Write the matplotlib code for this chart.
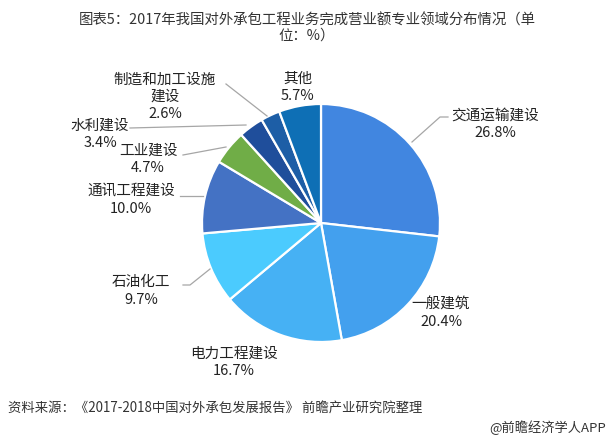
import matplotlib
matplotlib.use("Agg")
import matplotlib.pyplot as plt

plt.rcParams['font.family'] = ['Noto Sans CJK SC', 'DejaVu Sans']

categories = ['交通运输建设', '一般建筑', '电力工程建设', '石油化工', '通讯工程建设',
              '工业建设', '水利建设', '制造和加工设施\n建设', '其他']
values = [26.8, 20.4, 16.7, 9.7, 10.0, 4.7, 3.4, 2.6, 5.7]
colors = ['#4186E0', '#43A0EE', '#46B1F4', '#4BCBFE', '#4472C4',
          '#70AD47', '#1F4E9B', '#1D5EA6', '#0E6FB5']

# label anchor positions (pixel coords, top-left origin)
label_pos = [(495, 124), (441, 313), (234, 362), (141, 291), (131, 200),
             (148, 159), (100, 134), (165, 97), (298, 87)]
# leader lines (pixel coords)
leaders = {
    0: [(412, 143), (440, 118), (448, 118)],
    3: [(210, 270), (190, 286), (183, 286)],
    4: [(203, 197), (180, 197)],
    5: [(226, 148), (183, 156)],
    6: [(246, 126), (130, 129)],
    7: [(267, 117), (226, 85)],
}

W, H = 611, 439
fig = plt.figure(figsize=(W / 100, H / 100), dpi=100)
ax = fig.add_axes([0, 0, 1, 1])
ax.set_xlim(0, W)
ax.set_ylim(0, H)
ax.set_aspect('equal')
ax.axis('off')

cx, cy, r = 321, 224, 119
ax.pie(values, colors=colors, startangle=90, counterclock=False,
       center=(cx, H - cy), radius=r,
       wedgeprops=dict(edgecolor='white', linewidth=1.6))
ax.set_xlim(0, W)
ax.set_ylim(0, H)

for i, (name, v) in enumerate(zip(categories, values)):
    x, y = label_pos[i]
    ax.text(x, H - y, f'{name}\n{v:.1f}%', ha='center', va='center',
            fontsize=10.5, color='#222222', linespacing=1.3)

for i, pts in leaders.items():
    xs = [p[0] for p in pts]
    ys = [H - p[1] for p in pts]
    ax.plot(xs, ys, color='#A6A6A6', linewidth=0.9)

fig.text(307 / W, 1 - 28 / H,
         '图表5：2017年我国对外承包工程业务完成营业额专业领域分布情况（单\n位：%）',
         ha='center', va='center', fontsize=10.4, color='#333333', linespacing=1.15)

fig.text(8 / W, 1 - 409 / H,
         '资料来源：《2017-2018中国对外承包发展报告》 前瞻产业研究院整理',
         ha='left', va='center', fontsize=9.6, color='#333333', style='italic')
fig.text(606 / W, 1 - 428 / H, '@前瞻经济学人APP',
         ha='right', va='center', fontsize=9.5, color='#333333')

fig.savefig('out.png', dpi=100)
